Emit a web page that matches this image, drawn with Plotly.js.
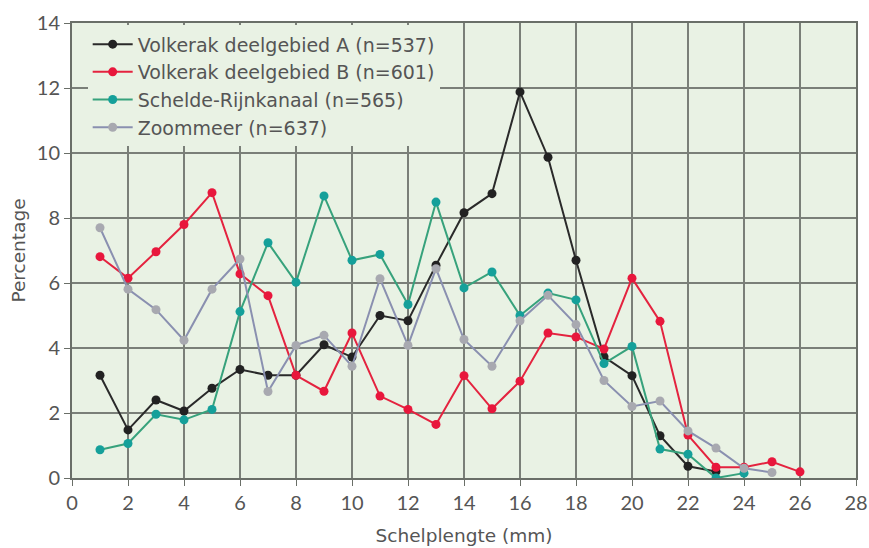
<!DOCTYPE html>
<html><head><meta charset="utf-8">
<script src="https://cdn.plot.ly/plotly-3.0.1.min.js"></script>
<style>html,body{margin:0;padding:0;background:#fff}</style>
</head><body><div id="chart" style="width:869px;height:548px"></div>
<script>
const xA = [1,2,3,4,5,6,7,8,9,10,11,12,13,14,15,16,17,18,19,20,21,22,23];
const volkerakA = [3.16,1.48,2.4,2.06,2.76,3.34,3.16,3.16,4.1,3.72,5.0,4.84,6.55,8.16,8.75,11.88,9.87,6.7,3.73,3.15,1.3,0.36,0.2];
const xB = [1,2,3,4,5,6,7,8,9,10,11,12,13,14,15,16,17,18,19,20,21,22,23,24,25,26];
const volkerakB = [6.81,6.15,6.96,7.8,8.78,6.28,5.61,3.16,2.67,4.46,2.52,2.11,1.65,3.15,2.13,2.98,4.46,4.34,3.97,6.15,4.82,1.32,0.33,0.33,0.5,0.19];
const xS = [1,2,3,4,5,6,7,8,9,10,11,12,13,14,15,16,17,18,19,20,21,22,23,24];
const schelde = [0.87,1.06,1.96,1.79,2.11,5.12,7.24,6.02,8.68,6.7,6.88,5.34,8.49,5.85,6.34,5.0,5.69,5.48,3.52,4.05,0.89,0.73,0.0,0.15];
const xZ = [1,2,3,4,5,6,7,8,9,10,11,12,13,14,15,16,17,18,19,20,21,22,23,24,25];
const zoommeer = [7.7,5.81,5.18,4.24,5.81,6.74,2.66,4.08,4.39,3.44,6.13,4.08,6.44,4.26,3.44,4.84,5.62,4.72,3.0,2.2,2.37,1.45,0.92,0.3,0.17];
const names = ['Volkerak deelgebied A (n=537)','Volkerak deelgebied B (n=601)','Schelde-Rijnkanaal (n=565)','Zoommeer (n=637)'];
const xTicks = [0,2,4,6,8,10,12,14,16,18,20,22,24,26,28];
const yTicks = [0,2,4,6,8,10,12,14];

const font = 'Lato, "Noto Sans", sans-serif';
const wide = '"DejaVu Sans", sans-serif';
function tr(x, y, name, lc, mc) {
  return {x: x, y: y, name: name, type: 'scatter', mode: 'lines+markers',
    line: {color: lc, width: 2}, marker: {color: mc, size: 9}};
}
const data = [
  tr(xA, volkerakA, names[0], '#2a2a2a', '#222222'),
  tr(xB, volkerakB, names[1], '#e4233f', '#e8173c'),
  tr(xS, schelde, names[2], '#37a27c', '#15a09a'),
  tr(xZ, zoommeer, names[3], '#8a90b0', '#a8a9b0')
];
const layout = {
  width: 869, height: 548,
  margin: {l: 72, r: 13, t: 23, b: 70},
  paper_bgcolor: '#ffffff', plot_bgcolor: '#e9f2e4',
  font: {family: font, color: '#555555', size: 19},
  showlegend: true,
  legend: {x: 0.02, y: 0.995, xanchor: 'left', yanchor: 'top', bgcolor: '#e9f2e4',
    font: {family: wide, size: 19, color: '#555555'}, tracegroupgap: 0, itemwidth: 40},
  xaxis: {range: [0, 28], tickvals: xTicks, ticktext: xTicks.map(String),
    showgrid: true, gridcolor: '#7a7f78', gridwidth: 1.5,
    showline: true, linecolor: '#6a6f68', linewidth: 2, mirror: true,
    ticks: 'outside', ticklen: 6, tickcolor: '#6a6f68', zeroline: false,
    tickfont: {family: font, size: 20, color: '#555555'},
    title: {text: 'Schelplengte (mm)', font: {family: wide, size: 18.5, color: '#555555'}, standoff: 16}},
  yaxis: {range: [0, 14], tickvals: yTicks, ticktext: yTicks.map(String),
    showgrid: true, gridcolor: '#7a7f78', gridwidth: 1.5,
    showline: true, linecolor: '#6a6f68', linewidth: 2, mirror: true,
    ticks: 'outside', ticklen: 6, tickcolor: '#6a6f68', zeroline: false,
    tickfont: {family: font, size: 20, color: '#555555'},
    title: {text: 'Percentage', font: {family: wide, size: 18.5, color: '#555555'}, standoff: 6}}
};
Plotly.newPlot('chart', data, layout, {displayModeBar: false, staticPlot: true});
</script></body></html>
